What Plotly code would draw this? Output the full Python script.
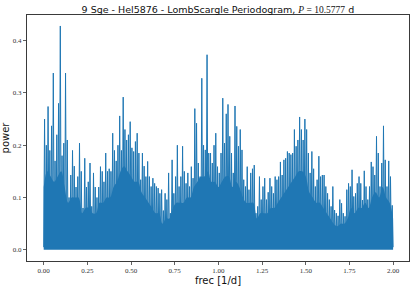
import numpy as np
import plotly.graph_objects as go

# Peak heights (local maxima / spikes) of the periodogram, at freq 0.005 + 0.01k
peaks = [
    0.25, 0.20, 0.274, 0.19, 0.237, 0.338, 0.17, 0.22, 0.28, 0.428,
    0.18, 0.204, 0.338, 0.21, 0.10, 0.143, 0.19, 0.16, 0.12, 0.14,
    0.204, 0.15, 0.08, 0.175, 0.12, 0.13, 0.166, 0.083, 0.147, 0.12,
    0.10, 0.12, 0.159, 0.15, 0.13, 0.185, 0.15, 0.155, 0.15, 0.223,
    0.19, 0.17, 0.20, 0.256, 0.19, 0.292, 0.23, 0.21, 0.22, 0.245,
    0.195, 0.188, 0.207, 0.223, 0.185, 0.134, 0.185, 0.16, 0.14, 0.169,
    0.14, 0.121, 0.137, 0.127, 0.121, 0.118, 0.108, 0.115, 0.075, 0.108,
    0.096, 0.147, 0.07, 0.172, 0.108, 0.14, 0.2, 0.121, 0.14, 0.198,
    0.15, 0.127, 0.147, 0.121, 0.159, 0.137, 0.27, 0.242, 0.166, 0.14,
    0.328, 0.2, 0.191, 0.373, 0.185, 0.185, 0.166, 0.2, 0.223, 0.159,
    0.147, 0.185, 0.29, 0.204, 0.26, 0.278, 0.217, 0.185, 0.147, 0.275,
    0.236, 0.198, 0.23, 0.191, 0.134, 0.121, 0.159, 0.115, 0.147, 0.155,
    0.162, 0.07, 0.083, 0.14, 0.096, 0.121, 0.137, 0.096, 0.11, 0.137,
    0.121, 0.108, 0.14, 0.134, 0.14, 0.168, 0.143, 0.172, 0.175, 0.188,
    0.185, 0.182, 0.185, 0.23, 0.198, 0.21, 0.254, 0.23, 0.21, 0.25,
    0.23, 0.185, 0.147, 0.188, 0.155, 0.121, 0.134, 0.179, 0.14, 0.143,
    0.143, 0.121, 0.108, 0.096, 0.083, 0.121, 0.076, 0.07, 0.065, 0.096,
    0.089, 0.07, 0.064, 0.115, 0.127, 0.121, 0.153, 0.102, 0.108, 0.127,
    0.14, 0.127, 0.095, 0.151, 0.121, 0.096, 0.121, 0.168, 0.159, 0.143,
    0.217, 0.185, 0.121, 0.166, 0.237, 0.172, 0.121, 0.17, 0.14, 0.085,
]

# Trough heights (local minima) at freq 0.00, 0.01, ..., 2.00
troughs = [
    0.005, 0.01, 0.005, 0.02, 0.005, 0.01, 0.005, 0.015, 0.005, 0.01,
    0.005, 0.02, 0.005, 0.01, 0.005, 0.015, 0.005, 0.01, 0.005, 0.005,
    0.01, 0.005, 0.005, 0.015, 0.005, 0.005, 0.01, 0.005, 0.005, 0.01,
    0.005, 0.005, 0.01, 0.005, 0.005, 0.015, 0.005, 0.01, 0.005, 0.02,
    0.01, 0.02, 0.04, 0.03, 0.02, 0.03, 0.045, 0.045, 0.02, 0.035,
    0.03, 0.01, 0.015, 0.01, 0.02, 0.015, 0.032, 0.025, 0.01, 0.005,
    0.005, 0.015, 0.005, 0.005, 0.01, 0.005, 0.005, 0.01, 0.005, 0.005,
    0.005, 0.01, 0.005, 0.005, 0.01, 0.005, 0.005, 0.01, 0.005, 0.01,
    0.005, 0.01, 0.005, 0.01, 0.005, 0.015, 0.005, 0.01, 0.02, 0.015,
    0.03, 0.025, 0.01, 0.015, 0.02, 0.01, 0.005, 0.015, 0.005, 0.01,
    0.005, 0.01, 0.005, 0.015, 0.005, 0.01, 0.015, 0.005, 0.01, 0.015,
    0.005, 0.01, 0.005, 0.01, 0.005, 0.005, 0.01, 0.005, 0.005, 0.01,
    0.005, 0.005, 0.01, 0.005, 0.005, 0.01, 0.005, 0.005, 0.01, 0.005,
    0.005, 0.01, 0.005, 0.005, 0.01, 0.005, 0.015, 0.005, 0.01, 0.005,
    0.01, 0.005, 0.015, 0.01, 0.02, 0.01, 0.03, 0.03, 0.015, 0.02,
    0.02, 0.01, 0.005, 0.015, 0.005, 0.01, 0.005, 0.01, 0.005, 0.005,
    0.01, 0.005, 0.005, 0.01, 0.005, 0.005, 0.01, 0.005, 0.005, 0.01,
    0.005, 0.005, 0.01, 0.005, 0.005, 0.01, 0.005, 0.015, 0.005, 0.01,
    0.005, 0.01, 0.005, 0.01, 0.005, 0.005, 0.015, 0.005, 0.01, 0.015,
    0.02, 0.01, 0.005, 0.02, 0.025, 0.01, 0.005, 0.015, 0.005, 0.01,
    0.005,
]

# Level reached by the densely packed oscillations (solid band), freq 0.00..2.00 step 0.02
band = [
    0.12, 0.15, 0.14, 0.13, 0.14, 0.15, 0.12, 0.09, 0.10, 0.10,
    0.10, 0.07, 0.08, 0.08, 0.07, 0.07, 0.09, 0.09, 0.10, 0.10,
    0.12, 0.13, 0.15, 0.16, 0.15, 0.14, 0.13, 0.13, 0.11, 0.10,
    0.09, 0.08, 0.07, 0.07, 0.05, 0.06, 0.06, 0.08, 0.09, 0.09,
    0.09, 0.10, 0.10, 0.12, 0.13, 0.14, 0.14, 0.15, 0.13, 0.13,
    0.12, 0.13, 0.14, 0.14, 0.12, 0.13, 0.12, 0.10, 0.09, 0.09,
    0.09, 0.06, 0.07, 0.07, 0.07, 0.08, 0.08, 0.09, 0.10, 0.11,
    0.12, 0.13, 0.14, 0.15, 0.15, 0.14, 0.11, 0.10, 0.09, 0.09,
    0.08, 0.07, 0.06, 0.05, 0.045, 0.05, 0.05, 0.06, 0.08, 0.07,
    0.08, 0.08, 0.09, 0.08, 0.10, 0.11, 0.10, 0.12, 0.10, 0.09,
    0.06,
]

xtick_vals = [0.0, 0.25, 0.5, 0.75, 1.0, 1.25, 1.5, 1.75, 2.0]
xtick_text = ["0.00", "0.25", "0.50", "0.75", "1.00", "1.25", "1.50", "1.75", "2.00"]
ytick_vals = [0.0, 0.1, 0.2, 0.3, 0.4]
ytick_text = ["0.0", "0.1", "0.2", "0.3", "0.4"]

# frequency grids (axis): troughs at 0.01k, peaks halfway between; band every 0.02
f_tr = np.linspace(0.0, 2.0, len(troughs))
f_pk = f_tr[:-1] + 0.005
f_band = np.linspace(0.0, 2.0, len(band))
freq, power = [], []
for i in range(len(peaks)):
    freq += [f_tr[i], f_pk[i]]
    power += [troughs[i], peaks[i]]
freq.append(f_tr[-1])
power.append(troughs[-1])

BLUE = "#1f77b4"
fig = go.Figure()
fig.add_trace(go.Scatter(x=f_band, y=band, mode="lines", fill="tozeroy",
                         fillcolor=BLUE, line=dict(color=BLUE, width=0, shape="spline"),
                         showlegend=False, hoverinfo="skip"))
fig.add_trace(go.Scatter(x=freq, y=power, mode="lines",
                         line=dict(color=BLUE, width=1),
                         showlegend=False, hoverinfo="skip"))

axis_common = dict(showline=True, mirror=True, linecolor="#3a3a3a", linewidth=1,
                   ticks="outside", ticklen=3, tickwidth=0.8, tickcolor="#3a3a3a",
                   showgrid=False, zeroline=False, automargin=False,
                   tickfont=dict(family="Liberation Serif", size=7, color="#333"))

fig.update_layout(
    width=415, height=288,
    margin=dict(l=27, r=6, t=15, b=27),
    paper_bgcolor="white", plot_bgcolor="white",
    title=dict(text="9 Sge - Hel5876 - LombScargle Periodogram, "
                    "<span style='font-family:Liberation Serif'><i>P</i> = 10.5777</span> d",
               x=0.525, xanchor="center", y=1 - 9.5/288, yanchor="middle", yref="container",
               font=dict(family="DejaVu Sans", size=9.5, color="#111")),
    xaxis=dict(range=[-0.0956, 2.091], tickvals=xtick_vals, ticktext=xtick_text,
               title=dict(text="frec [1/d]", standoff=2,
                          font=dict(family="DejaVu Sans", size=10, color="#111")),
               **axis_common),
    yaxis=dict(range=[-0.0214, 0.449], tickvals=ytick_vals, ticktext=ytick_text,
               title=dict(text="power", standoff=2,
                          font=dict(family="DejaVu Sans", size=10, color="#111")),
               **axis_common),
)

fig.write_html("out.html", config={"displayModeBar": False, "staticPlot": True},
               post_script="document.body.style.margin='0';document.body.style.overflow='hidden';")
